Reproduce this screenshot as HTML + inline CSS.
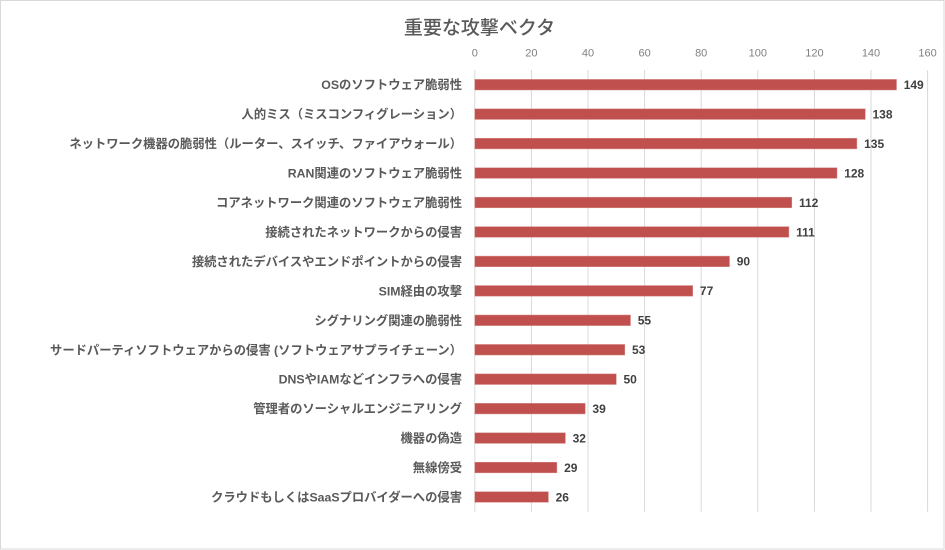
<!DOCTYPE html>
<html>
<head>
<meta charset="utf-8">
<style>
html,body{margin:0;padding:0;background:#fff;}
body{width:945px;height:550px;overflow:hidden;}
svg{display:block;}
.cat{font-family:"Liberation Sans","Noto Sans CJK JP",sans-serif;font-size:12.3px;font-weight:bold;fill:#595959;}
.tick{font-family:"Liberation Sans","Noto Sans CJK JP",sans-serif;font-size:11px;fill:#808080;}
.val{font-family:"Liberation Sans","Noto Sans CJK JP",sans-serif;font-size:12px;font-weight:bold;fill:#404040;}
.title{font-family:"Liberation Sans","Noto Sans CJK JP",sans-serif;font-size:19px;font-weight:500;fill:#595959;}
</style>
</head>
<body>
<svg width="945" height="550" viewBox="0 0 945 550" xmlns="http://www.w3.org/2000/svg">
<rect x="0.5" y="0.5" width="943.5" height="548.5" fill="#fff" stroke="#d9d9d9" stroke-width="1"/>
<text class="title" x="479.5" y="34" text-anchor="middle">重要な攻撃ベクタ</text>
<g stroke="#d9d9d9" stroke-width="1">
<line x1="474.8" y1="70" x2="474.8" y2="511.7"/>
<line x1="531.4" y1="70" x2="531.4" y2="511.7"/>
<line x1="588.0" y1="70" x2="588.0" y2="511.7"/>
<line x1="644.6" y1="70" x2="644.6" y2="511.7"/>
<line x1="701.2" y1="70" x2="701.2" y2="511.7"/>
<line x1="757.8" y1="70" x2="757.8" y2="511.7"/>
<line x1="814.4" y1="70" x2="814.4" y2="511.7"/>
<line x1="871.0" y1="70" x2="871.0" y2="511.7"/>
<line x1="927.6" y1="70" x2="927.6" y2="511.7"/>
</g>
<g text-anchor="middle">
<text class="tick" x="474.8" y="56.7">0</text>
<text class="tick" x="531.4" y="56.7">20</text>
<text class="tick" x="588.0" y="56.7">40</text>
<text class="tick" x="644.6" y="56.7">60</text>
<text class="tick" x="701.2" y="56.7">80</text>
<text class="tick" x="757.8" y="56.7">100</text>
<text class="tick" x="814.4" y="56.7">120</text>
<text class="tick" x="871.0" y="56.7">140</text>
<text class="tick" x="927.6" y="56.7">160</text>
</g>
<g fill="#c0504d" stroke="#d48a88" stroke-width="0.5">
<rect x="474.8" y="79.4" width="421.7" height="10.6"/>
<rect x="474.8" y="108.85" width="390.5" height="10.6"/>
<rect x="474.8" y="138.3" width="382.1" height="10.6"/>
<rect x="474.8" y="167.75" width="362.2" height="10.6"/>
<rect x="474.8" y="197.2" width="317.0" height="10.6"/>
<rect x="474.8" y="226.65" width="314.1" height="10.6"/>
<rect x="474.8" y="256.1" width="254.7" height="10.6"/>
<rect x="474.8" y="285.55" width="217.9" height="10.6"/>
<rect x="474.8" y="315.0" width="155.7" height="10.6"/>
<rect x="474.8" y="344.45" width="150.0" height="10.6"/>
<rect x="474.8" y="373.9" width="141.5" height="10.6"/>
<rect x="474.8" y="403.35" width="110.4" height="10.6"/>
<rect x="474.8" y="432.8" width="90.6" height="10.6"/>
<rect x="474.8" y="462.25" width="82.1" height="10.6"/>
<rect x="474.8" y="491.7" width="73.6" height="10.6"/>
</g>
<g text-anchor="end">
<text class="cat" x="462" y="89.2">OSのソフトウェア脆弱性</text>
<text class="cat" x="462" y="118.65">人的ミス（ミスコンフィグレーション）</text>
<text class="cat" x="462" y="148.1">ネットワーク機器の脆弱性（ルーター、スイッチ、ファイアウォール）</text>
<text class="cat" x="462" y="177.55">RAN関連のソフトウェア脆弱性</text>
<text class="cat" x="462" y="207.0">コアネットワーク関連のソフトウェア脆弱性</text>
<text class="cat" x="462" y="236.45">接続されたネットワークからの侵害</text>
<text class="cat" x="462" y="265.9">接続されたデバイスやエンドポイントからの侵害</text>
<text class="cat" x="462" y="295.35">SIM経由の攻撃</text>
<text class="cat" x="462" y="324.8">シグナリング関連の脆弱性</text>
<text class="cat" x="462" y="354.25">サードパーティソフトウェアからの侵害 (ソフトウェアサプライチェーン）</text>
<text class="cat" x="462" y="383.7">DNSやIAMなどインフラへの侵害</text>
<text class="cat" x="462" y="413.15">管理者のソーシャルエンジニアリング</text>
<text class="cat" x="462" y="442.6">機器の偽造</text>
<text class="cat" x="462" y="472.05">無線傍受</text>
<text class="cat" x="462" y="501.5">クラウドもしくはSaaSプロバイダーへの侵害</text>
</g>
<g>
<text class="val" x="903.7" y="89.0">149</text>
<text class="val" x="872.5" y="118.45">138</text>
<text class="val" x="864.1" y="147.9">135</text>
<text class="val" x="844.2" y="177.35">128</text>
<text class="val" x="799.0" y="206.8">112</text>
<text class="val" x="796.1" y="236.25">111</text>
<text class="val" x="736.7" y="265.7">90</text>
<text class="val" x="699.9" y="295.15">77</text>
<text class="val" x="637.7" y="324.6">55</text>
<text class="val" x="632.0" y="354.05">53</text>
<text class="val" x="623.5" y="383.5">50</text>
<text class="val" x="592.4" y="412.95">39</text>
<text class="val" x="572.6" y="442.4">32</text>
<text class="val" x="564.1" y="471.85">29</text>
<text class="val" x="555.6" y="501.3">26</text>
</g>
</svg>
</body>
</html>
